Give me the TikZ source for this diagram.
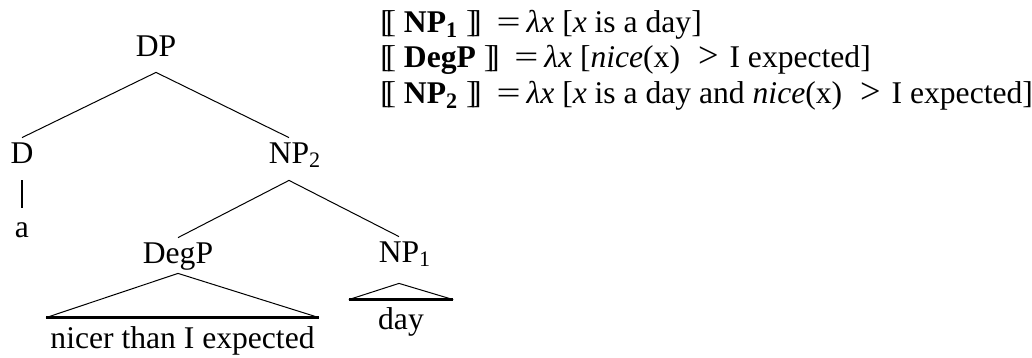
\documentclass[tikz,border=0pt]{standalone}
\usepackage{fontspec}
\setmainfont{Liberation Serif}
\usetikzlibrary{positioning}
\newcommand{\lsem}{[\kern-.17em[}
\newcommand{\rsem}{]\kern-.17em]}
\newcommand{\deneq}{\hspace{0.47em}\scalebox{1.35}[1]{=}\hspace{0.19em}}
\newcommand{\dengt}{\hspace{0.57em}\scalebox{1.15}{>}\hspace{0.35em}}

\begin{document}
\begin{tikzpicture}[
  x=0.5pt, y=-0.5pt,
  every node/.style={font=\fontsize{15.8}{19}\selectfont, inner sep=0pt},
  cat/.style={anchor=base, text height=12.5pt, text depth=8.5pt},
  leaf/.style={anchor=base, text height=15pt, text depth=0pt, inner xsep=2pt},
  denot/.style={anchor=base west},
  branch/.style={line width=0.5pt},
  bar/.style={line width=1.3pt}
]
  \useasboundingbox (0,0) rectangle (1032,358);

  \node[cat, text depth=7.5pt] (dp) at (156,57) {DP};
  \node[cat] (d) at (22,163) {D};
  \node[cat] (np2) at (289,163) {NP\rlap{\textsubscript{2}}};
  \node[cat, text height=14.5pt, text depth=0pt] (a) at (22,237) {a};
  \node[cat, text depth=5pt] (degp) at (178,263) {DegP};
  \node[cat, text depth=10.5pt] (np1) at (399,262) {NP\rlap{\textsubscript{1}}};
  \node[leaf] (nicer) at (182.5,348) {nicer than I expected};
  \node[leaf, text height=14.5pt, inner xsep=14.5pt] (day) at (401,329) {day};

  \draw[branch] (d.north) -- (dp.south) -- (np2.north);
  \draw[branch] (degp.north) -- (np2.south) -- (np1.north);
  \draw[line width=1.1pt] (d.south) -- (a.north);
  \draw[branch] (nicer.north west) -- (degp.south) -- (nicer.north east);
  \draw[bar] (nicer.north west) -- (nicer.north east);
  \draw[branch] (day.north west) -- (np1.south) -- (day.north east);
  \draw[bar] (day.north west) -- (day.north east);

  \node[denot] (den1) at (380,33) {\lsem{} \textbf{NP\textsubscript{1}} \rsem\deneq\textit{λx} [\textit{x} is a day]};
  \node[denot] (den2) at (380,68) {\lsem{} \textbf{DegP} \rsem\deneq\textit{λx} [\textit{nice}(x)\dengt I expected]};
  \node[denot] (den3) at (380,104) {\lsem{} \textbf{NP\textsubscript{2}} \rsem\deneq\textit{λx} [\textit{x} is a day and \textit{nice}(x)\dengt I expected]};
\end{tikzpicture}
\end{document}
